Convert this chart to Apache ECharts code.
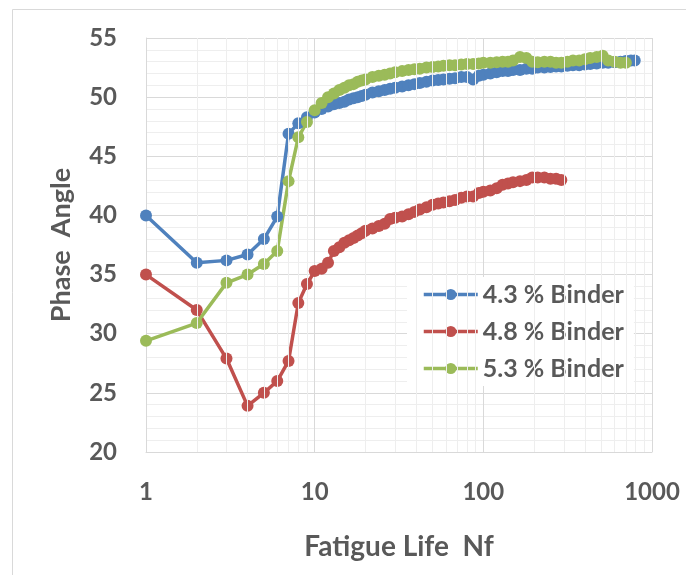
<!DOCTYPE html>
<html lang="en">
  <head>
    <meta charset="UTF-8" />
    <title>Phase Angle vs Fatigue Life</title>
    <style>
      * {
        margin: 0;
        padding: 0;
      }
    </style>
  </head>
  <body>
    <div id="main" style="width: 686px; height: 575px;"></div>
    <script src="https://cdn.jsdelivr.net/npm/echarts@6/dist/echarts.min.js"></script>
    <script>
      // cycles (Nf) where values were read
      const nf = [
        1, 2, 3, 4, 5, 6, 7, 8, 9, 10, 11, 12, 13, 14, 15, 16, 17, 18, 19, 20,
        22, 24, 26, 28, 30, 33, 36, 39, 42, 46, 50, 54, 58, 63, 68, 74, 80, 87,
        94, 100, 110, 120, 130, 140, 150, 165, 180, 195, 210, 230, 250, 270,
        290, 315, 340, 370, 400, 430, 470, 510, 550, 600, 650, 700, 750, 790,
      ];
      // phase angle, 4.3 % binder
      const binder43 = [
        40.0, 36.0, 36.2, 36.7, 38.0, 39.9, 46.9, 47.8, 48.3, 48.7, 49.0, 49.2,
        49.4, 49.5, 49.6, 49.8, 49.9, 50.0, 50.1, 50.2, 50.4, 50.5, 50.6, 50.7,
        50.8, 50.9, 51.0, 51.1, 51.2, 51.3, 51.4, 51.45, 51.5, 51.55, 51.6,
        51.7, 51.7, 51.5, 51.8, 51.9, 52.0, 52.1, 52.2, 52.2, 52.3, 52.3, 52.4,
        52.4, 52.5, 52.5, 52.55, 52.6, 52.6, 52.65, 52.7, 52.7, 52.75, 52.8,
        52.85, 52.9, 52.9, 52.95, 53.0, 53.05, 53.1, 53.1,
      ];
      // phase angle, 4.8 % binder
      const binder48 = [
        35.0, 32.0, 27.9, 23.9, 25.0, 26.0, 27.7, 32.6, 34.2, 35.3, 35.5, 36.0,
        37.0, 37.3, 37.7, 37.9, 38.1, 38.3, 38.5, 38.7, 38.9, 39.1, 39.3, 39.7,
        39.8, 39.9, 40.1, 40.3, 40.5, 40.7, 40.9, 41.0, 41.1, 41.2, 41.3, 41.5,
        41.6, 41.6, 41.9, 42.0, 42.1, 42.3, 42.6, 42.7, 42.8, 42.9, 43.0, 43.2,
        43.2, 43.2, 43.1, 43.1, 43.0,
      ];
      // phase angle, 5.3 % binder
      const binder53 = [
        29.4, 30.9, 34.3, 35.0, 35.9, 37.0, 42.9, 46.6, 47.9, 48.9, 49.5, 50.0,
        50.3, 50.6, 50.8, 51.0, 51.1, 51.3, 51.4, 51.5, 51.7, 51.8, 51.9, 52.0,
        52.1, 52.2, 52.3, 52.35, 52.4, 52.5, 52.55, 52.6, 52.65, 52.7, 52.7,
        52.75, 52.8, 52.8, 52.85, 52.9, 52.9, 52.95, 53.0, 53.0, 53.1, 53.4,
        53.3, 53.0, 52.95, 53.0, 53.0, 52.9, 52.9, 53.0, 53.1, 53.1, 53.2, 53.3,
        53.4, 53.5, 53.1, 53.0, 52.9, 52.9,
      ];
      // minor vertical grid positions on the log axis
      const minorX = [
        2, 3, 4, 5, 6, 7, 8, 9, 20, 30, 40, 50, 60, 70, 80, 90, 200, 300, 400,
        500, 600, 700, 800, 900,
      ];

      const textColor = "#595959";
      const font = "Lato";

      function pairs(values) {
        return values.map((v, i) => [nf[i], v]);
      }

      function makeSeries(name, color, values) {
        return {
          name: name,
          type: "line",
          data: pairs(values),
          symbol: "circle",
          symbolSize: 12,
          z: 3,
          itemStyle: { color: color },
          lineStyle: { color: color, width: 3.5 },
          emphasis: { disabled: true },
        };
      }

      let myEcharts = echarts.init(document.getElementById("main"));
      let option = {
        animation: false,
        backgroundColor: "#fff",
        textStyle: { fontFamily: font, fontWeight: "bold", color: textColor },
        graphic: [
          {
            type: "rect",
            shape: { x: 12.5, y: 9.5, width: 700, height: 600 },
            style: { fill: "none", stroke: "#d9d9d9", lineWidth: 1 },
            silent: true,
          },
        ],
        grid: { left: 146, right: 34, top: 38, bottom: 123 },
        legend: {
          data: ["4.3 % Binder", "4.8 % Binder", "5.3 % Binder"],
          orient: "vertical",
          left: 407,
          top: 277,
          padding: [5, 10, 5, 15],
          backgroundColor: "#fff",
          itemWidth: 54,
          itemHeight: 14,
          itemGap: 12,
          lineStyle: { width: 3.5, type: "solid" },
          textStyle: {
            fontFamily: font,
            fontWeight: "bold",
            fontSize: 25,
            color: textColor,
          },
        },
        xAxis: {
          type: "log",
          logBase: 10,
          min: 1,
          max: 1000,
          name: "Fatigue Life  Nf",
          nameLocation: "middle",
          nameGap: 81,
          nameTextStyle: {
            fontFamily: font,
            fontWeight: "bold",
            fontSize: 28,
            color: textColor,
          },
          axisLine: { lineStyle: { color: "#d9d9d9", width: 1 } },
          axisTick: { show: false },
          axisLabel: {
            fontFamily: font,
            fontWeight: "bold",
            fontSize: 24,
            color: textColor,
            margin: 28,
            formatter: (v) => String(Math.round(v)),
          },
          splitLine: { show: true, lineStyle: { color: "#d9d9d9", width: 1 } },
        },
        yAxis: {
          type: "value",
          min: 20,
          max: 55,
          interval: 5,
          name: "Phase  Angle",
          nameLocation: "middle",
          nameGap: 71,
          nameTextStyle: {
            fontFamily: font,
            fontWeight: "bold",
            fontSize: 27,
            color: textColor,
          },
          axisLine: { show: true, lineStyle: { color: "#d9d9d9", width: 1 } },
          axisTick: { show: false },
          axisLabel: {
            fontFamily: font,
            fontWeight: "bold",
            fontSize: 24,
            color: textColor,
            margin: 29,
          },
          splitLine: { lineStyle: { color: "#d9d9d9", width: 1 } },
          minorTick: { show: false, splitNumber: 5 },
          minorSplitLine: {
            show: true,
            lineStyle: { color: "#eeeeee", width: 1 },
          },
        },
        series: [
          {
            name: "grid",
            type: "line",
            data: [],
            z: 1,
            silent: true,
            markLine: {
              silent: true,
              symbol: "none",
              label: { show: false },
              lineStyle: { color: "#eeeeee", width: 1, type: "solid" },
              emphasis: { disabled: true },
              data: minorX.map((x) => ({ xAxis: x })),
            },
          },
          makeSeries("4.3 % Binder", "#4f81bd", binder43),
          makeSeries("4.8 % Binder", "#c0504d", binder48),
          makeSeries("5.3 % Binder", "#9bbb59", binder53),
        ],
      };
      myEcharts.setOption(option);
    </script>
  </body>
</html>
